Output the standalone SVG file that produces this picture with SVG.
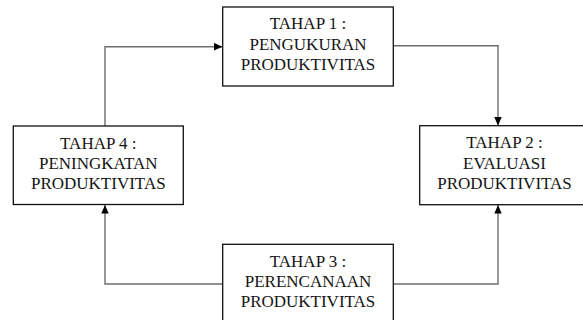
<svg xmlns="http://www.w3.org/2000/svg" width="583" height="320" viewBox="0 0 583 320">
  <style>
    .box { fill: #ffffff; stroke: #111111; stroke-width: 1.3; }
    .lbl { font-family: "Liberation Serif", "Times New Roman", serif; font-size: 17px; fill: #141414; text-anchor: middle; }
    .conn { fill: none; stroke: #6e6e6e; stroke-width: 1.4; }
  </style>
  <defs>
    <marker id="arrow" markerUnits="userSpaceOnUse" markerWidth="9" markerHeight="8" refX="8.5" refY="3.75" orient="auto">
      <path d="M0,0 L8.5,3.75 L0,7.5 Z" fill="#000000"/>
    </marker>
  </defs>
  <rect width="583" height="320" fill="#ffffff"/>

  <g id="connectors">
    <path class="conn" d="M105,126 V46.7 H222.5" marker-end="url(#arrow)"/>
    <path class="conn" d="M393.3,45.7 H498 V125.5" marker-end="url(#arrow)"/>
    <path class="conn" d="M222.7,284 H105 V205" marker-end="url(#arrow)"/>
    <path class="conn" d="M393.3,284 H498 V205" marker-end="url(#arrow)"/>
  </g>

  <g id="tahap1">
    <rect class="box" x="222.7" y="7" width="170.6" height="79"/>
    <text class="lbl" x="308" y="29.3">TAHAP 1 :</text>
    <text class="lbl" x="308" y="50">PENGUKURAN</text>
    <text class="lbl" x="308" y="70">PRODUKTIVITAS</text>
  </g>

  <g id="tahap2">
    <rect class="box" x="419.7" y="125.7" width="170" height="79"/>
    <text class="lbl" x="504.5" y="148.3">TAHAP 2 :</text>
    <text class="lbl" x="504.5" y="169">EVALUASI</text>
    <text class="lbl" x="504.5" y="189">PRODUKTIVITAS</text>
  </g>

  <g id="tahap3">
    <rect class="box" x="222.7" y="244.3" width="170.6" height="79"/>
    <text class="lbl" x="308" y="266.7">TAHAP 3 :</text>
    <text class="lbl" x="308" y="287.3">PERENCANAAN</text>
    <text class="lbl" x="308" y="307.3">PRODUKTIVITAS</text>
  </g>

  <g id="tahap4">
    <rect class="box" x="13.3" y="126" width="170" height="78.5"/>
    <text class="lbl" x="98.3" y="148.5">TAHAP 4 :</text>
    <text class="lbl" x="98.3" y="169">PENINGKATAN</text>
    <text class="lbl" x="98.3" y="189">PRODUKTIVITAS</text>
  </g>
</svg>
